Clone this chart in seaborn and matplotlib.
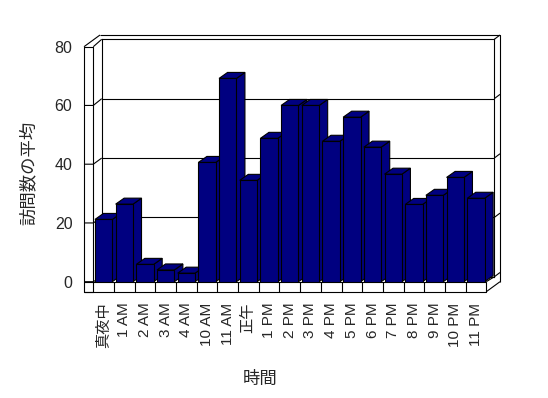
import matplotlib
matplotlib.use('Agg')
import matplotlib.pyplot as plt
import seaborn as sns
import pandas as pd
from matplotlib.patches import Polygon
from matplotlib.transforms import IdentityTransform

categories = ['真夜中', '1 AM', '2 AM', '3 AM', '4 AM', '10 AM', '11 AM', '正午',
              '1 PM', '2 PM', '3 PM', '4 PM', '5 PM', '6 PM', '7 PM', '8 PM',
              '9 PM', '10 PM', '11 PM']
values = [21.2, 26.4, 5.9, 4.0, 2.9, 40.6, 69.2, 34.5, 48.8, 60.0, 60.0,
          47.8, 56.0, 45.8, 36.6, 26.3, 29.4, 35.5, 28.4]
y_ticks = [0, 20, 40, 60, 80]
y_label = '訪問数の平均'
x_label = '時間'

sns.set_theme(style='white')
plt.rcParams['font.family'] = ['Liberation Sans', 'Noto Sans CJK JP']

W, H = 548, 398
fig = plt.figure(figsize=(W / 100, H / 100), dpi=100)
fig.patch.set_facecolor('white')
NAVY = '#000080'
LW = 0.8

# overlay axes in pixel coords (top-left origin) for the 3D frame
ov = fig.add_axes([0, 0, 1, 1])
ov.set_xlim(0, W)
ov.set_ylim(H, 0)
ov.axis('off')
ov.set_zorder(0)

# back wall
axb = fig.add_axes([101.7 / W, (H - 276.8) / H, 392.6 / W, 237.5 / H])
axb.set_zorder(1)
axb.patch.set_alpha(0)
axb.set_xlim(0, 1)
axb.set_ylim(0, 80)
axb.set_xticks([])
axb.set_yticks([])
for s in axb.spines.values():
    s.set_color('black')
    s.set_linewidth(LW)
for v in y_ticks[1:-1]:
    axb.axhline(v, color='black', lw=LW)

# front axes with bars
ax = fig.add_axes([93.3 / W, (H - 281.7) / H, 393 / W, 235 / H])
ax.set_zorder(2)
ax.patch.set_alpha(0)
df = pd.DataFrame({'cat': categories, 'val': values})
sns.barplot(data=df, x='cat', y='val', color=NAVY, width=0.84, saturation=1,
            edgecolor='black', linewidth=LW, ax=ax)
ax.set_xlim(-0.5, len(categories) - 0.5)
ax.set_ylim(0, 80)
for s in ax.spines.values():
    s.set_visible(False)
ax.set_yticks(y_ticks)
ax.set_yticklabels([str(t) for t in y_ticks], fontsize=11.5)
ax.set_xticks(range(len(categories)))
ax.set_xticklabels(categories, rotation=90, fontsize=11)
ax.tick_params(axis='y', length=0, pad=15)
ax.tick_params(axis='x', length=0, pad=15)
ax.set_ylabel(y_label, fontsize=12.5)
ax.set_xlabel(x_label, fontsize=12.5)
ax.yaxis.set_label_coords(-0.143, 0.4625)
ax.xaxis.set_label_coords(0.424, -0.38)

# 3D faces on bars
dx, dy = 8.5, 6.0
for i, p in enumerate(ax.patches):
    x0, y0 = ax.transData.transform((p.get_x(), 0))
    x1, y1 = ax.transData.transform((p.get_x() + p.get_width(), p.get_height()))
    side = [(x1, y0), (x1 + dx, y0 + dy), (x1 + dx, y1 + dy), (x1, y1)]
    top = [(x0, y1), (x1, y1), (x1 + dx, y1 + dy), (x0 + dx, y1 + dy)]
    for poly in (side, top):
        ax.add_patch(Polygon(poly, closed=True, transform=IdentityTransform(),
                             facecolor=NAVY, edgecolor='black', lw=LW,
                             clip_on=False, zorder=3 + 2 * i))
    p.set_zorder(4 + 2 * i)


def front_y(v):
    return H - ax.transData.transform((0, v))[1]


def back_y(v):
    return H - axb.transData.transform((0, v))[1]


def front_x(c):
    return ax.transData.transform((c, 0))[0]


def line(pts):
    xs, ys = zip(*pts)
    ov.plot(xs, ys, color='black', lw=LW, solid_capstyle='butt')


xl, xw = 84.0, front_x(-0.5)
xr = front_x(len(categories) - 0.5)
bl, br = 101.7, 494.3
ft, f0 = front_y(80), front_y(0)
fb = f0 + 10
# left wall front face
line([(xl, ft), (xw, ft), (xw, fb), (xl, fb), (xl, ft)])
line([(xl, ft), (100, 35)])
line([(xw, ft), (bl, back_y(80))])
# back wall outer edges
line([(100, 35), (500, 35), (500, f0)])
line([(br, back_y(80)), (500, 35)])
# gridline connectors
for v in y_ticks[:-1]:
    line([(xl, front_y(v)), (xw, front_y(v)), (bl, back_y(v))])
    line([(br, back_y(v)), (500, back_y(v) - 4.3)])
# floor front slab
line([(xl, f0), (xr, f0), (xr, fb), (xl, fb)])
for c in range(len(categories) - 1):
    xc = front_x(c + 0.5)
    line([(xc, f0), (xc, fb)])
line([(xr, fb), (500, f0)])
line([(xr, f0), (br, back_y(0))])

fig.savefig('out.png', dpi=100, facecolor='white')
